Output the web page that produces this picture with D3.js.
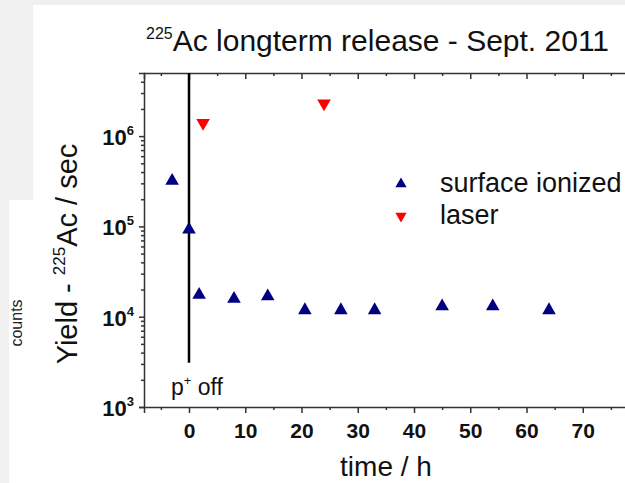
<!DOCTYPE html>
<html>
<head>
<meta charset="utf-8">
<script src="https://cdn.jsdelivr.net/npm/d3@7"></script>
<style>
  body { margin: 0; background: #f0f0f0; }
  svg { display: block; font-family: "Liberation Sans", Arial, sans-serif; }
</style>
</head>
<body>
<svg id="chart" width="625" height="483"></svg>
<script>
// surface ionized data (time in h, yield in counts/sec)
const surfaceTime = [-3, 0, 1.8, 8, 14, 20.6, 27, 33, 45, 54, 64];
const surfaceYield = [3.2e5, 9.2e4, 1.75e4, 1.58e4, 1.68e4, 1.18e4, 1.18e4, 1.18e4, 1.3e4, 1.3e4, 1.18e4];
// laser data
const laserTime = [2.5, 24];
const laserYield = [1.4e6, 2.3e6];
// axes
const xMajorTicks = [0, 10, 20, 30, 40, 50, 60, 70];
const xMinorTicks = [-5, 5, 15, 25, 35, 45, 55, 65, 75];
const yMajorTicks = [1e3, 1e4, 1e5, 1e6];
const legendLabels = ['surface ionized', 'laser'];

const svg = d3.select('#chart');

// background panels (screenshot look)
svg.append('rect').attr('x', 33).attr('y', 5).attr('width', 600).attr('height', 480).attr('fill', '#fff');
svg.append('rect').attr('x', 9).attr('y', 200).attr('width', 40).attr('height', 290).attr('fill', '#fff');

svg.append('text')
    .attr('transform', 'translate(22,323) rotate(-90)')
    .attr('text-anchor', 'middle')
    .attr('font-size', 16)
    .attr('fill', '#222')
    .text('counts');

const x = d3.scaleLinear().domain([-8, 80]).range([144, 639]);
const y = d3.scaleLog().domain([1e3, 5e6]).range([407, 73]);

const axisColor = '#333';

// minor y ticks (2..9 in each decade)
const yMinorTicks = [];
for (let e = 3; e <= 6; e++) {
    for (let m = 2; m <= 9; m++) {
        const v = m * Math.pow(10, e);
        if (v < 5e6) yMinorTicks.push(v);
    }
}

// bottom axis
const gx = svg.append('g').attr('transform', 'translate(0,407)');
gx.call(d3.axisBottom(x).tickValues(xMajorTicks).tickSize(6).tickFormat(d3.format('d')));
gx.append('g').call(d3.axisBottom(x).tickValues(xMinorTicks).tickSize(3).tickFormat(''))
    .select('.domain').remove();
gx.selectAll('text')
    .attr('font-family', '"Liberation Sans", Arial, sans-serif')
    .attr('font-weight', 'bold')
    .attr('font-size', 21)
    .attr('fill', '#111')
    .attr('dy', null)
    .attr('y', 31);

// top axis, ticks pointing in
const gt = svg.append('g').attr('transform', 'translate(0,73)');
gt.call(d3.axisBottom(x).tickValues(xMajorTicks).tickSize(6).tickFormat(''));
gt.append('g').call(d3.axisBottom(x).tickValues(xMinorTicks).tickSize(3).tickFormat(''))
    .select('.domain').remove();

// left axis
const gy = svg.append('g').attr('transform', 'translate(144,0)');
gy.call(d3.axisLeft(y).tickValues(yMajorTicks).tickSize(5).tickFormat(''));
gy.append('g').call(d3.axisLeft(y).tickValues(yMinorTicks).tickSize(3).tickFormat(''))
    .select('.domain').remove();

svg.selectAll('.domain, .tick line')
    .attr('stroke', axisColor)
    .attr('stroke-width', 1.5);

// y tick labels as 10^n
yMajorTicks.forEach(v => {
    const t = svg.append('text')
        .attr('x', 134)
        .attr('y', y(v) + 9)
        .attr('text-anchor', 'end')
        .attr('font-weight', 'bold')
        .attr('font-size', 22)
        .attr('fill', '#111');
    t.append('tspan').text('10');
    t.append('tspan').attr('font-size', 13).attr('dy', -10).text(Math.round(Math.log10(v)));
});

// proton-off marker line
svg.append('line')
    .attr('x1', x(0)).attr('x2', x(0))
    .attr('y1', y(5e6)).attr('y2', y(3.1e3))
    .attr('stroke', '#000')
    .attr('stroke-width', 2.5);

const pOff = svg.append('text')
    .attr('x', x(0) - 18)
    .attr('y', 395)
    .attr('font-size', 23)
    .attr('fill', '#111');
pOff.append('tspan').text('p');
pOff.append('tspan').attr('font-size', 13).attr('dy', -10).text('+');
pOff.append('tspan').attr('dy', 10).text(' off');

// markers
const tri = d3.symbol().type(d3.symbolTriangle).size(80);

svg.append('g')
    .selectAll('path')
    .data(surfaceTime.map((t, i) => ({ t: t, v: surfaceYield[i] })))
    .enter().append('path')
    .attr('d', tri)
    .attr('transform', d => `translate(${x(d.t)},${y(d.v)})`)
    .attr('fill', '#000080');

svg.append('g')
    .selectAll('path')
    .data(laserTime.map((t, i) => ({ t: t, v: laserYield[i] })))
    .enter().append('path')
    .attr('d', tri)
    .attr('transform', d => `translate(${x(d.t)},${y(d.v)}) rotate(180)`)
    .attr('fill', '#ff0000');

// legend
const legendColors = ['#000080', '#ff0000'];
const legend = svg.append('g');
legendLabels.forEach((label, i) => {
    const ly = 184 + i * 32;
    legend.append('path')
        .attr('d', d3.symbol().type(d3.symbolTriangle).size(55))
        .attr('transform', `translate(401,${ly}) rotate(${i ? 180 : 0})`)
        .attr('fill', legendColors[i]);
    legend.append('text')
        .attr('x', 440)
        .attr('y', ly + 8)
        .attr('font-size', 27)
        .attr('fill', '#111')
        .text(label);
});

// title
const title = svg.append('text')
    .attr('x', 146)
    .attr('y', 51)
    .attr('font-size', 30)
    .attr('fill', '#111');
title.append('tspan').attr('font-size', 16).attr('dy', -12).text('225');
title.append('tspan').attr('dy', 12).text('Ac longterm release - Sept. 2011');

// axis titles
svg.append('text')
    .attr('x', 386)
    .attr('y', 476)
    .attr('text-anchor', 'middle')
    .attr('font-size', 28)
    .attr('fill', '#111')
    .text('time / h');

const yTitle = svg.append('text')
    .attr('transform', 'translate(77,254) rotate(-90)')
    .attr('text-anchor', 'middle')
    .attr('font-size', 29)
    .attr('fill', '#111');
yTitle.append('tspan').text('Yield - ');
yTitle.append('tspan').attr('font-size', 17).attr('dy', -12).text('225');
yTitle.append('tspan').attr('dy', 12).text('Ac / sec');
</script>
</body>
</html>
